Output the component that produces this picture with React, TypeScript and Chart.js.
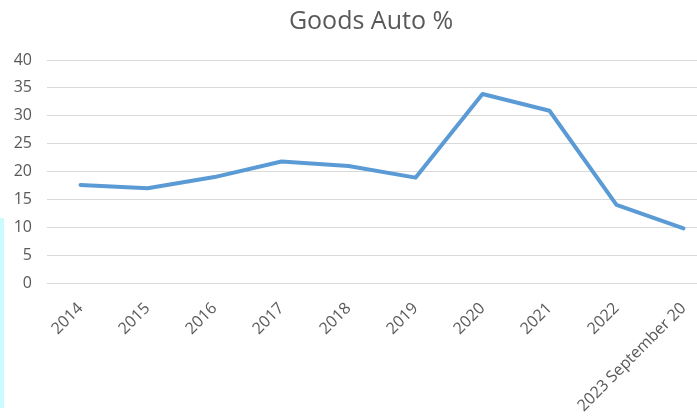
import React, { useEffect, useRef } from "react";
import { Chart, registerables } from "chart.js";

Chart.register(...registerables);

const categories = [
  "2014",
  "2015",
  "2016",
  "2017",
  "2018",
  "2019",
  "2020",
  "2021",
  "2022",
  "2023 September 20",
];
const goodsAuto = [17.6, 17.0, 19.0, 21.8, 21.0, 18.9, 33.9, 30.9, 14.0, 9.8];
const yMin = 0;
const yMax = 40;
const yStep = 5;
const titleText = "Goods Auto %";

export default function App() {
  const ref = useRef<HTMLCanvasElement | null>(null);

  useEffect(() => {
    if (!ref.current) return;
    const chart = new Chart(ref.current, {
      type: "line",
      data: {
        labels: categories,
        datasets: [
          {
            label: titleText,
            data: goodsAuto,
            borderColor: "#5b9bd5",
            backgroundColor: "#5b9bd5",
            borderWidth: 4,
            pointRadius: 0,
            tension: 0,
            borderJoinStyle: "round",
            borderCapStyle: "round",
            yAxisID: "y",
          },
        ],
      },
      options: {
        responsive: false,
        animation: false,
        devicePixelRatio: 1,
        layout: { padding: 0 },
        plugins: {
          legend: { display: false },
          tooltip: { enabled: false },
          title: {
            display: true,
            text: titleText,
            color: "#595959",
            font: { family: "'Open Sans', sans-serif", size: 25, weight: "normal" },
            padding: { top: 7, bottom: 23 },
          },
        },
        scales: {
          x: {
            offset: true,
            grid: { display: false },
            border: { display: false },
            ticks: {
              autoSkip: false,
              minRotation: 45,
              maxRotation: 45,
              color: "#595959",
              padding: 8,
              font: { family: "'Open Sans', sans-serif", size: 16 },
            },
            afterFit: (s: any) => {
              s.height = 134;
            },
          },
          y: {
            min: yMin,
            max: yMax,
            grid: { color: "#d9d9d9", lineWidth: 1, drawTicks: false },
            border: { display: false },
            ticks: {
              stepSize: yStep,
              color: "#595959",
              padding: 15,
              font: { family: "'Open Sans', sans-serif", size: 16 },
            },
            afterFit: (s: any) => {
              s.width = 47;
            },
          },
          y2: {
            position: "right",
            display: true,
            grid: { display: false, drawTicks: false },
            border: { display: false },
            ticks: { display: false },
            afterFit: (s: any) => {
              s.width = 25;
            },
          },
        },
      },
    });
    return () => chart.destroy();
  }, []);

  return (
    <div
      style={{
        position: "absolute",
        left: 0,
        top: 0,
        width: 697,
        height: 417,
        overflow: "hidden",
        background: "#ffffff",
      }}
    >
      <canvas ref={ref} width={742} height={417} style={{ width: 742, height: 417, display: "block" }} />
      <div
        style={{
          position: "absolute",
          left: 0,
          top: 218,
          width: 4,
          height: 190,
          background: "#ccfbfd",
        }}
      />
    </div>
  );
}
